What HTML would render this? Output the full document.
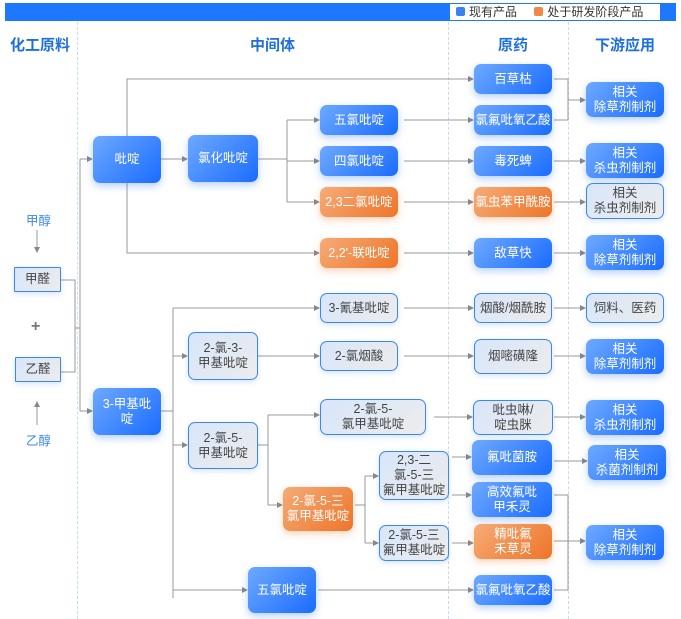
<!DOCTYPE html>
<html><head><meta charset="utf-8"><style>
*{margin:0;padding:0;box-sizing:border-box}
body{width:681px;height:619px;background:#fff;position:relative;overflow:hidden;font-family:"Liberation Sans","Noto Sans CJK SC",sans-serif}
.n{position:absolute;display:flex;align-items:center;justify-content:center;text-align:center;font-size:12.5px;line-height:15px;border-radius:7px;white-space:nowrap}
.b{background:linear-gradient(135deg,#6ea9ff,#1a6cff);color:#fff;box-shadow:0 3px 8px rgba(40,120,255,.35)}
.o{background:linear-gradient(135deg,#f6ab78,#ee7528);color:#fff;box-shadow:0 3px 8px rgba(240,130,60,.35)}
.l{background:linear-gradient(135deg,#d8e6fb,#ececec);color:#444;border:1.5px solid #3d86f0;box-shadow:0 2px 6px rgba(40,120,255,.2)}
.sq{border-radius:1px}
.h{position:absolute;font-size:15px;color:#1f6fde;font-weight:bold}
.t{position:absolute;font-size:12.5px;color:#3a86ee}
.d{position:absolute;top:22px;bottom:0;border-left:1px dashed #c6dcf5}
</style></head><body>
<div style="position:absolute;left:5px;top:3px;width:671px;height:18px;background:#1e78ff"></div>
<div style="position:absolute;left:450px;top:4px;width:210px;height:16px;background:#fff;font-size:12px;color:#333;line-height:16px">
<span style="display:inline-block;width:9px;height:9px;background:#3a82f0;border-radius:2px;margin:0 4px 0 6px"></span>现有产品
<span style="display:inline-block;width:9px;height:9px;background:#ee8a44;border-radius:2px;margin:0 4px 0 14px"></span>处于研发阶段产品</div>
<div class="d" style="left:77px"></div><div class="d" style="left:448px"></div><div class="d" style="left:568px"></div>
<div class="h" style="left:10px;top:34px">化工原料</div>
<div class="h" style="left:250px;top:34px">中间体</div>
<div class="h" style="left:498px;top:34px">原药</div>
<div class="h" style="left:595px;top:34px">下游应用</div>
<svg width="681" height="619" style="position:absolute;left:0;top:0">
<defs><marker id="a" markerWidth="6" markerHeight="6" refX="5" refY="3" orient="auto"><path d="M0,0L6,3L0,6z" fill="#888"/></marker></defs>
<g stroke="#999" stroke-width="1" fill="none">
<path d="M37,230V252" marker-end="url(#a)"/><path d="M37,425V402" marker-end="url(#a)"/>
<path d="M61,280H75V372H61M75,328H80"/>
<path d="M80,159V411"/><path d="M80,159H92" marker-end="url(#a)"/><path d="M80,411H92" marker-end="url(#a)"/>
<path d="M127,136V79H473" marker-end="url(#a)"/><path d="M127,183V253H319" marker-end="url(#a)"/>
<path d="M161,159H187" marker-end="url(#a)"/>
<path d="M258,159H287M287,120V202"/><path d="M287,120H319" marker-end="url(#a)"/><path d="M287,161H319" marker-end="url(#a)"/><path d="M287,202H319" marker-end="url(#a)"/>
<path d="M404,120H473" marker-end="url(#a)"/><path d="M404,161H473" marker-end="url(#a)"/><path d="M404,202H473" marker-end="url(#a)"/><path d="M404,253H473" marker-end="url(#a)"/>
<path d="M554,79H568V120H554M568,100H585" marker-end="url(#a)"/>
<path d="M554,161H585" marker-end="url(#a)"/><path d="M554,202H585" marker-end="url(#a)"/><path d="M554,253H585" marker-end="url(#a)"/>
<path d="M161,411H173M173,308V598"/>
<path d="M173,308H319" marker-end="url(#a)"/><path d="M173,356H187" marker-end="url(#a)"/><path d="M173,445H187" marker-end="url(#a)"/><path d="M173,590H247" marker-end="url(#a)"/>
<path d="M258,356H319" marker-end="url(#a)"/>
<path d="M258,445H268M268,415V505"/><path d="M268,415H319" marker-end="url(#a)"/><path d="M268,505H282" marker-end="url(#a)"/>
<path d="M404,308H473" marker-end="url(#a)"/><path d="M554,308H585" marker-end="url(#a)"/>
<path d="M404,356H473" marker-end="url(#a)"/><path d="M554,356H585" marker-end="url(#a)"/>
<path d="M434,417H472" marker-end="url(#a)"/><path d="M554,417H585" marker-end="url(#a)"/>
<path d="M355,505H365M365,476V543"/><path d="M365,476H378" marker-end="url(#a)"/><path d="M365,543H378" marker-end="url(#a)"/>
<path d="M452,457H471" marker-end="url(#a)"/><path d="M452,495H471" marker-end="url(#a)"/>
<path d="M554,461H587" marker-end="url(#a)"/>
<path d="M452,543H473" marker-end="url(#a)"/>
<path d="M554,495H568V590H554M554,541H585" marker-end="url(#a)"/>
<path d="M318,590H473" marker-end="url(#a)"/>
</g></svg>
<div class="t" style="left:26px;top:210px">甲醇</div>
<div class="t" style="left:26px;top:430px">乙醇</div>
<div style="position:absolute;left:31px;top:318px;font-size:16px;color:#777;font-weight:bold">+</div>
<div class="n l sq" style="left:14px;top:267px;width:47px;height:25px">甲醛</div>
<div class="n l sq" style="left:15px;top:357px;width:46px;height:25px">乙醛</div>
<div class="n b" style="left:93px;top:136px;width:68px;height:47px">吡啶</div>
<div class="n b" style="left:188px;top:135px;width:70px;height:47px">氯化吡啶</div>
<div class="n b" style="left:320px;top:105px;width:78px;height:30px">五氯吡啶</div>
<div class="n b" style="left:320px;top:146px;width:78px;height:30px">四氯吡啶</div>
<div class="n o" style="left:320px;top:187px;width:78px;height:30px">2,3二氯吡啶</div>
<div class="n o" style="left:320px;top:238px;width:78px;height:30px">2,2'-联吡啶</div>
<div class="n b" style="left:474px;top:64px;width:78px;height:30px">百草枯</div>
<div class="n b" style="left:474px;top:105px;width:78px;height:30px">氯氟吡氧乙酸</div>
<div class="n b" style="left:474px;top:146px;width:78px;height:30px">毒死蜱</div>
<div class="n o" style="left:474px;top:187px;width:78px;height:30px">氯虫苯甲酰胺</div>
<div class="n b" style="left:474px;top:238px;width:78px;height:30px">敌草快</div>
<div class="n b" style="left:586px;top:82px;width:78px;height:35px">相关<br>除草剂制剂</div>
<div class="n b" style="left:586px;top:143px;width:78px;height:35px">相关<br>杀虫剂制剂</div>
<div class="n l" style="left:586px;top:183px;width:78px;height:36px">相关<br>杀虫剂制剂</div>
<div class="n b" style="left:586px;top:235px;width:78px;height:35px">相关<br>除草剂制剂</div>
<div class="n b" style="left:93px;top:388px;width:68px;height:47px">3-甲基吡<br>啶</div>
<div class="n l" style="left:320px;top:293px;width:78px;height:30px">3-氰基吡啶</div>
<div class="n l" style="left:188px;top:332px;width:70px;height:48px">2-氯-3-<br>甲基吡啶</div>
<div class="n l" style="left:320px;top:341px;width:78px;height:30px">2-氯烟酸</div>
<div class="n l" style="left:188px;top:422px;width:70px;height:47px">2-氯-5-<br>甲基吡啶</div>
<div class="n l" style="left:320px;top:399px;width:106px;height:36px">2-氯-5-<br>氯甲基吡啶</div>
<div class="n o" style="left:283px;top:487px;width:70px;height:44px">2-氯-5-三<br>氯甲基吡啶</div>
<div class="n l" style="left:379px;top:451px;width:70px;height:49px">2,3-二<br>氯-5-三<br>氟甲基吡啶</div>
<div class="n l" style="left:379px;top:525px;width:70px;height:36px">2-氯-5-三<br>氟甲基吡啶</div>
<div class="n b" style="left:248px;top:567px;width:68px;height:46px">五氯吡啶</div>
<div class="n l" style="left:474px;top:293px;width:78px;height:30px">烟酸/烟酰胺</div>
<div class="n l" style="left:474px;top:339px;width:78px;height:35px">烟嘧磺隆</div>
<div class="n l" style="left:473px;top:400px;width:80px;height:35px">吡虫啉/<br>啶虫脒</div>
<div class="n b" style="left:472px;top:440px;width:80px;height:35px">氟吡菌胺</div>
<div class="n b" style="left:472px;top:482px;width:80px;height:35px">高效氟吡<br>甲禾灵</div>
<div class="n o" style="left:474px;top:524px;width:78px;height:35px">精吡氟<br>禾草灵</div>
<div class="n b" style="left:474px;top:575px;width:78px;height:30px">氯氟吡氧乙酸</div>
<div class="n l" style="left:586px;top:293px;width:78px;height:30px">饲料、医药</div>
<div class="n b" style="left:586px;top:339px;width:78px;height:35px">相关<br>除草剂制剂</div>
<div class="n b" style="left:586px;top:400px;width:78px;height:35px">相关<br>杀虫剂制剂</div>
<div class="n b" style="left:588px;top:445px;width:78px;height:35px">相关<br>杀菌剂制剂</div>
<div class="n b" style="left:586px;top:525px;width:78px;height:35px">相关<br>除草剂制剂</div>
</body></html>
